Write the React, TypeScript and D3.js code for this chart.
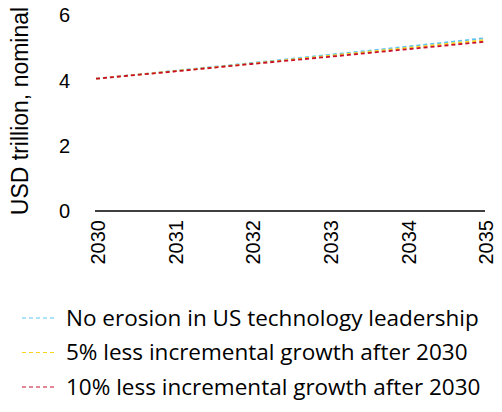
import React from 'react';
import * as d3 from 'd3';

const years = [2030, 2031, 2032, 2033, 2034, 2035];
const noErosion = [4.05, 4.29, 4.53, 4.78, 5.03, 5.29];
const less5 = [4.05, 4.28, 4.51, 4.75, 4.99, 5.23];
const less10 = [4.05, 4.27, 4.5, 4.72, 4.95, 5.18];
const yTicks = [0, 2, 4, 6];
const seriesNames = [
  'No erosion in US technology leadership',
  '5% less incremental growth after 2030',
  '10% less incremental growth after 2030',
];
const seriesColors = ['#5ec4f5', '#f7d51d', '#c8102e'];

export default function App() {
  const width = 502;
  const height = 412;
  const x = d3.scaleLinear().domain([2030, 2035]).range([96, 484]);
  const y = d3.scaleLinear().domain([0, 6]).range([211, 15]);
  const line = d3.line<number>()
    .x((d, i) => x(years[i]))
    .y(d => y(d));
  const series = [noErosion, less5, less10];

  return (
    <svg width={width} height={height} style={{ position: 'absolute', left: 0, top: 0 }}
      fontFamily="'Liberation Sans', Arial, sans-serif">
      {yTicks.map(t => (
        <text key={t} x={70} y={y(t)} dy="0.36em" textAnchor="end" fontSize={20} fill="#000">{t}</text>
      ))}
      <text transform={`translate(28,111) rotate(-90)`} textAnchor="middle" fontSize={23} fill="#000">
        USD trillion, nominal
      </text>
      <line x1={x(2030) - 1} x2={x(2035) + 1} y1={y(0)} y2={y(0)} stroke="#000" strokeWidth={1.5} />
      {years.map(yr => (
        <text key={yr} transform={`translate(${x(yr) + 2},${y(0) + 9}) rotate(-90)`} dy="0.36em"
          textAnchor="end" fontSize={20} fill="#000">{yr}</text>
      ))}
      {series.map((s, i) => (
        <path key={i} d={line(s) || ''} fill="none" stroke={seriesColors[i]} strokeWidth={1.8}
          strokeDasharray="4,3" />
      ))}
      {seriesNames.map((n, i) => (
        <g key={n} transform={`translate(0,${318 + i * 34.5})`}>
          <line x1={22} x2={54} y1={0} y2={0} stroke={seriesColors[i]} strokeWidth={1.2} strokeDasharray="4,3" />
          <text x={66} y={0} dy="0.35em" fontSize={22.5} fill="#000"
            fontFamily="'Open Sans', 'Liberation Sans', sans-serif">{n}</text>
        </g>
      ))}
    </svg>
  );
}
